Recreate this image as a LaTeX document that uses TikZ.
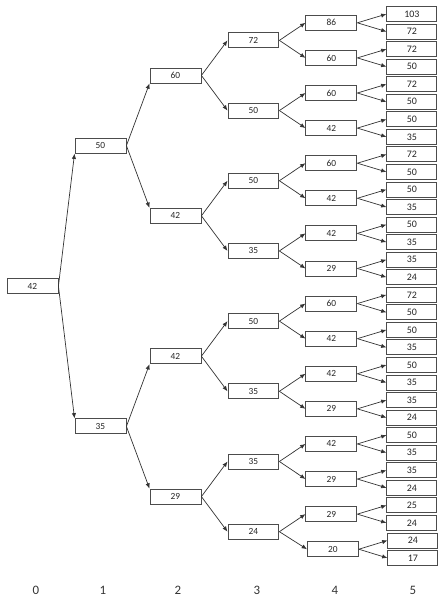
\documentclass[tikz,border=0pt]{standalone}
\usepackage{fontspec}
\setmainfont{Carlito}
\usetikzlibrary{arrows.meta}
\tikzset{
  valbox/.style={draw=black!70, line width=0.75pt, fill=white, minimum width=1.53cm, minimum height=0.45cm, inner sep=0pt, font=\fontsize{8}{9}\selectfont, text=black!85},
  leafbox/.style={valbox, minimum width=1.5cm, font=\fontsize{8.5}{10}\selectfont},
  arrow/.style={-{Latex[length=1.6mm,width=1.3mm]}, line width=0.6pt, draw=black!80},
  steplbl/.style={font=\fontsize{11}{13}\selectfont, text=black!80}
}
\begin{document}
\begin{tikzpicture}[x=0.03cm, y=-0.5265cm]
\useasboundingbox (0,-0.8) rectangle (441,33.85);
% stage 0 and 1
\node[valbox] (s0-0) at (32.5,15.5) {42};
\node[valbox] (s1-0) at (100.5,7.5) {50};
\node[valbox] (s1-1) at (100.5,23.5) {35};
% stage 2
\node[valbox] (s2-0) at (175.5,3.5) {60};
\node[valbox] (s2-1) at (175.5,11.5) {42};
\node[valbox] (s2-2) at (175.5,19.5) {42};
\node[valbox] (s2-3) at (175.5,27.5) {29};
% stage 3
\node[valbox] (s3-0) at (253.5,1.5) {72};
\node[valbox] (s3-1) at (253.5,5.5) {50};
\node[valbox] (s3-2) at (253.5,9.5) {50};
\node[valbox] (s3-3) at (253.5,13.5) {35};
\node[valbox] (s3-4) at (253.5,17.5) {50};
\node[valbox] (s3-5) at (253.5,21.5) {35};
\node[valbox] (s3-6) at (253.5,25.5) {35};
\node[valbox] (s3-7) at (253.5,29.5) {24};
% stage 4
\node[valbox] (s4-0) at (331.5,0.5) {86};
\node[valbox] (s4-1) at (331.5,2.5) {60};
\node[valbox] (s4-2) at (331.5,4.5) {60};
\node[valbox] (s4-3) at (331.5,6.5) {42};
\node[valbox] (s4-4) at (331.5,8.5) {60};
\node[valbox] (s4-5) at (331.5,10.5) {42};
\node[valbox] (s4-6) at (331.5,12.5) {42};
\node[valbox] (s4-7) at (331.5,14.5) {29};
\node[valbox] (s4-8) at (331.5,16.5) {60};
\node[valbox] (s4-9) at (331.5,18.5) {42};
\node[valbox] (s4-10) at (331.5,20.5) {42};
\node[valbox] (s4-11) at (331.5,22.5) {29};
\node[valbox] (s4-12) at (331.5,24.5) {42};
\node[valbox] (s4-13) at (331.5,26.5) {29};
\node[valbox] (s4-14) at (331.5,28.5) {29};
\node[valbox] (s4-15) at (333,30.5) {20};
% stage 5
\node[leafbox] (s5-0) at (412,0) {103};
\node[leafbox] (s5-1) at (412,1) {72};
\node[leafbox] (s5-2) at (412,2) {72};
\node[leafbox] (s5-3) at (412,3) {50};
\node[leafbox] (s5-4) at (412,4) {72};
\node[leafbox] (s5-5) at (412,5) {50};
\node[leafbox] (s5-6) at (412,6) {50};
\node[leafbox] (s5-7) at (412,7) {35};
\node[leafbox] (s5-8) at (412,8) {72};
\node[leafbox] (s5-9) at (412,9) {50};
\node[leafbox] (s5-10) at (412,10) {50};
\node[leafbox] (s5-11) at (412,11) {35};
\node[leafbox] (s5-12) at (412,12) {50};
\node[leafbox] (s5-13) at (412,13) {35};
\node[leafbox] (s5-14) at (412,14) {35};
\node[leafbox] (s5-15) at (412,15) {24};
\node[leafbox] (s5-16) at (412,16) {72};
\node[leafbox] (s5-17) at (412,17) {50};
\node[leafbox] (s5-18) at (412,18) {50};
\node[leafbox] (s5-19) at (412,19) {35};
\node[leafbox] (s5-20) at (412,20) {50};
\node[leafbox] (s5-21) at (412,21) {35};
\node[leafbox] (s5-22) at (412,22) {35};
\node[leafbox] (s5-23) at (412,23) {24};
\node[leafbox] (s5-24) at (412,24) {50};
\node[leafbox] (s5-25) at (412,25) {35};
\node[leafbox] (s5-26) at (412,26) {35};
\node[leafbox] (s5-27) at (412,27) {24};
\node[leafbox] (s5-28) at (412,28) {25};
\node[leafbox] (s5-29) at (412,29) {24};
\node[leafbox] (s5-30) at (413,30) {24};
\node[leafbox] (s5-31) at (413,31) {17};
% step numbers
\node[steplbl] (t0) at (36,32.82) {0};
\node[steplbl] (t1) at (103,32.82) {1};
\node[steplbl] (t2) at (178,32.82) {2};
\node[steplbl] (t3) at (257,32.82) {3};
\node[steplbl] (t4) at (335,32.82) {4};
\node[steplbl] (t5) at (413,32.82) {5};
% connectors
\draw[arrow] (s0-0.east) -- (s1-0.south west); \draw[arrow] (s0-0.east) -- (s1-1.north west);
\draw[arrow] (s1-0.east) -- (s2-0.south west); \draw[arrow] (s1-0.east) -- (s2-1.north west);
\draw[arrow] (s1-1.east) -- (s2-2.south west); \draw[arrow] (s1-1.east) -- (s2-3.north west);
\draw[arrow] (s2-0.east) -- (s3-0.west); \draw[arrow] (s2-0.east) -- (s3-1.west);
\draw[arrow] (s2-1.east) -- (s3-2.west); \draw[arrow] (s2-1.east) -- (s3-3.west);
\draw[arrow] (s2-2.east) -- (s3-4.west); \draw[arrow] (s2-2.east) -- (s3-5.west);
\draw[arrow] (s2-3.east) -- (s3-6.west); \draw[arrow] (s2-3.east) -- (s3-7.west);
\draw[arrow] (s3-0.east) -- (s4-0.west); \draw[arrow] (s3-0.east) -- (s4-1.west);
\draw[arrow] (s3-1.east) -- (s4-2.west); \draw[arrow] (s3-1.east) -- (s4-3.west);
\draw[arrow] (s3-2.east) -- (s4-4.west); \draw[arrow] (s3-2.east) -- (s4-5.west);
\draw[arrow] (s3-3.east) -- (s4-6.west); \draw[arrow] (s3-3.east) -- (s4-7.west);
\draw[arrow] (s3-4.east) -- (s4-8.west); \draw[arrow] (s3-4.east) -- (s4-9.west);
\draw[arrow] (s3-5.east) -- (s4-10.west); \draw[arrow] (s3-5.east) -- (s4-11.west);
\draw[arrow] (s3-6.east) -- (s4-12.west); \draw[arrow] (s3-6.east) -- (s4-13.west);
\draw[arrow] (s3-7.east) -- (s4-14.west); \draw[arrow] (s3-7.east) -- (s4-15.west);
\draw[arrow] (s4-0.east) -- (s5-0.west); \draw[arrow] (s4-0.east) -- (s5-1.west);
\draw[arrow] (s4-1.east) -- (s5-2.west); \draw[arrow] (s4-1.east) -- (s5-3.west);
\draw[arrow] (s4-2.east) -- (s5-4.west); \draw[arrow] (s4-2.east) -- (s5-5.west);
\draw[arrow] (s4-3.east) -- (s5-6.west); \draw[arrow] (s4-3.east) -- (s5-7.west);
\draw[arrow] (s4-4.east) -- (s5-8.west); \draw[arrow] (s4-4.east) -- (s5-9.west);
\draw[arrow] (s4-5.east) -- (s5-10.west); \draw[arrow] (s4-5.east) -- (s5-11.west);
\draw[arrow] (s4-6.east) -- (s5-12.west); \draw[arrow] (s4-6.east) -- (s5-13.west);
\draw[arrow] (s4-7.east) -- (s5-14.west); \draw[arrow] (s4-7.east) -- (s5-15.west);
\draw[arrow] (s4-8.east) -- (s5-16.west); \draw[arrow] (s4-8.east) -- (s5-17.west);
\draw[arrow] (s4-9.east) -- (s5-18.west); \draw[arrow] (s4-9.east) -- (s5-19.west);
\draw[arrow] (s4-10.east) -- (s5-20.west); \draw[arrow] (s4-10.east) -- (s5-21.west);
\draw[arrow] (s4-11.east) -- (s5-22.west); \draw[arrow] (s4-11.east) -- (s5-23.west);
\draw[arrow] (s4-12.east) -- (s5-24.west); \draw[arrow] (s4-12.east) -- (s5-25.west);
\draw[arrow] (s4-13.east) -- (s5-26.west); \draw[arrow] (s4-13.east) -- (s5-27.west);
\draw[arrow] (s4-14.east) -- (s5-28.west); \draw[arrow] (s4-14.east) -- (s5-29.west);
\draw[arrow] (s4-15.east) -- (s5-30.west); \draw[arrow] (s4-15.east) -- (s5-31.west);
\end{tikzpicture}
\end{document}
